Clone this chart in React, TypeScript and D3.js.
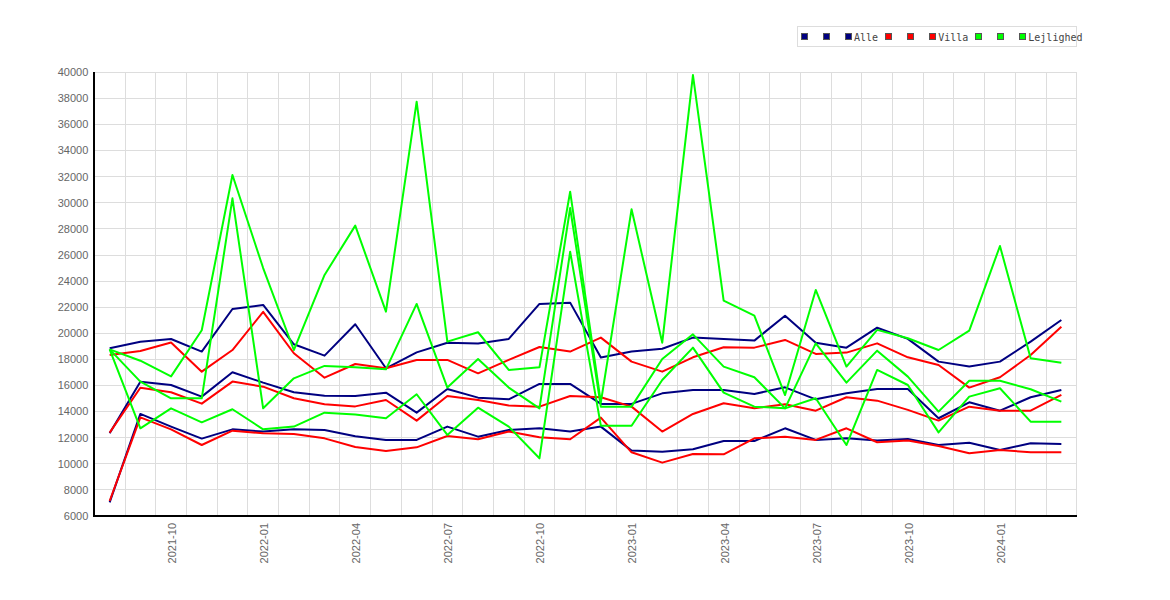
import React, { useEffect, useRef } from 'react';
import * as d3 from 'd3';

const months = [
  '2021-08', '2021-09', '2021-10', '2021-11', '2021-12',
  '2022-01', '2022-02', '2022-03', '2022-04', '2022-05', '2022-06', '2022-07',
  '2022-08', '2022-09', '2022-10', '2022-11', '2022-12',
  '2023-01', '2023-02', '2023-03', '2023-04', '2023-05', '2023-06', '2023-07',
  '2023-08', '2023-09', '2023-10', '2023-11', '2023-12',
  '2024-01', '2024-02', '2024-03',
];

const alleHigh = [18850, 19360, 19560, 18600, 21860, 22170, 19160, 18290, 20690, 17320, 18540, 19280, 19210, 19570, 22250, 22350, 18140, 18600, 18820, 19670, 19570, 19440, 21350, 19280, 18900, 20430, 19570, 17830, 17450, 17830, 19360, 21020];
const alleMid = [12340, 16290, 16040, 15150, 17020, 16220, 15480, 15220, 15200, 15450, 13920, 15730, 15070, 14940, 16120, 16120, 14590, 14590, 15400, 15660, 15660, 15350, 15860, 14940, 15400, 15730, 15730, 13490, 14710, 14070, 15100, 15660];
const alleLow = [7050, 13820, 12850, 11930, 12640, 12470, 12640, 12590, 12110, 11830, 11830, 12850, 12080, 12590, 12720, 12470, 12850, 11010, 10930, 11110, 11750, 11750, 12720, 11830, 11950, 11780, 11900, 11440, 11620, 11060, 11570, 11520];

const villaHigh = [18340, 18650, 19290, 17060, 18720, 21640, 18470, 16600, 17650, 17320, 17960, 17960, 16930, 17960, 18950, 18600, 19670, 17830, 17060, 18160, 18930, 18900, 19490, 18420, 18520, 19230, 18160, 17570, 15840, 16630, 18340, 20510];
const villaMid = [12390, 15830, 15480, 14610, 16300, 15910, 15020, 14560, 14400, 14890, 13310, 15200, 14890, 14460, 14380, 15200, 15100, 14380, 12470, 13820, 14640, 14250, 14560, 14070, 15100, 14840, 14130, 13310, 14380, 14070, 14070, 15280];
const villaLow = [7150, 13560, 12640, 11440, 12540, 12340, 12290, 11950, 11290, 10980, 11260, 12130, 11880, 12470, 12030, 11880, 13540, 10880, 10090, 10750, 10730, 11950, 12080, 11830, 12720, 11650, 11780, 11370, 10810, 11060, 10880, 10880];

const lejHigh = [18770, 17900, 16700, 20230, 32130, 25000, 18720, 24470, 28250, 21660, 37750, 19360, 20080, 17190, 17390, 30850, 14700, 29500, 19280, 39790, 22500, 21350, 15270, 23320, 17450, 20260, 19620, 18720, 20200, 26690, 18080, 17750];
const lejMid = [18770, 16300, 15020, 15020, 30340, 14250, 16550, 17500, 17400, 17240, 22250, 15840, 18030, 15840, 14250, 29600, 14380, 14380, 18030, 19920, 17450, 16630, 14250, 19230, 16220, 18670, 16680, 14000, 16370, 16370, 15710, 14760];
const lejLow = [18770, 12720, 14250, 13180, 14180, 12640, 12850, 13920, 13780, 13490, 15330, 12210, 14300, 12850, 10420, 26250, 12920, 12920, 16420, 18900, 15450, 14380, 14250, 15020, 11440, 17190, 16040, 12410, 15150, 15790, 13230, 13230];

const seriesLabels = ['', '', 'Alle', '', '', 'Villa', '', '', 'Lejlighed'];
const seriesColors = ['#000080', '#000080', '#000080', '#ff0000', '#ff0000', '#ff0000', '#00ff00', '#00ff00', '#00ff00'];
const seriesValues = [alleHigh, alleMid, alleLow, villaHigh, villaMid, villaLow, lejHigh, lejMid, lejLow];

const yTicks = d3.range(6000, 40001, 2000);
const xTickLabels = ['2021-10', '2022-01', '2022-04', '2022-07', '2022-10', '2023-01', '2023-04', '2023-07', '2023-10', '2024-01'];

const Chart: React.FC = () => {
  const svgRef = useRef<SVGSVGElement>(null);

  useEffect(() => {
    if (!svgRef.current) return;
    const svg = d3.select(svgRef.current);
    svg.selectAll('*').remove();

    const width = 1170;
    const height = 600;
    const left = 94.3;
    const right = 1076.7;
    const top = 72.3;
    const bottom = 516;

    svg.attr('width', width).attr('height', height).attr('viewBox', `0 0 ${width} ${height}`);

    const x = d3.scaleBand<string>().domain(months).range([left, right]);
    const y = d3.scaleLinear().domain([6000, 40000]).range([bottom, top]);

    // grid
    const grid = svg.append('g').attr('shape-rendering', 'crispEdges');
    grid.selectAll('line.h')
      .data(yTicks)
      .join('line')
      .attr('x1', left)
      .attr('x2', right)
      .attr('y1', (d) => y(d))
      .attr('y2', (d) => y(d))
      .attr('stroke', '#dddddd');
    grid.selectAll('line.v')
      .data(months.slice(1).concat(['end']))
      .join('line')
      .attr('x1', (_, i) => left + x.bandwidth() * (i + 1))
      .attr('x2', (_, i) => left + x.bandwidth() * (i + 1))
      .attr('y1', top)
      .attr('y2', bottom)
      .attr('stroke', '#dddddd');

    // y labels
    svg.append('g')
      .selectAll('text')
      .data(yTicks)
      .join('text')
      .attr('x', left - 6)
      .attr('y', (d) => y(d))
      .attr('dy', '0.35em')
      .attr('text-anchor', 'end')
      .attr('font-family', '"Liberation Sans", Arial, sans-serif')
      .attr('font-size', 11)
      .attr('fill', '#666666')
      .text((d) => d);

    // x labels
    svg.append('g')
      .selectAll('text')
      .data(xTickLabels)
      .join('text')
      .attr('transform', (d) => `translate(${(x(d) as number) + x.bandwidth() / 2 + 1},${bottom + 7}) rotate(-90)`)
      .attr('dy', '0.35em')
      .attr('text-anchor', 'end')
      .attr('font-family', '"Liberation Sans", Arial, sans-serif')
      .attr('font-size', 11)
      .attr('fill', '#666666')
      .text((d) => d);

    // lines
    const line = d3.line<number>()
      .x((_, i) => (x(months[i]) as number) + x.bandwidth() / 2)
      .y((d) => y(d));

    svg.append('g')
      .selectAll('path')
      .data(seriesValues)
      .join('path')
      .attr('d', (d) => line(d))
      .attr('fill', 'none')
      .attr('stroke', (_, i) => seriesColors[i])
      .attr('stroke-width', 2)
      .attr('stroke-linejoin', 'round');

    // axes
    const axes = svg.append('g').attr('shape-rendering', 'crispEdges');
    axes.append('line')
      .attr('x1', left).attr('x2', left)
      .attr('y1', top).attr('y2', bottom + 1)
      .attr('stroke', '#000').attr('stroke-width', 2);
    axes.append('line')
      .attr('x1', left).attr('x2', right)
      .attr('y1', bottom).attr('y2', bottom)
      .attr('stroke', '#000').attr('stroke-width', 2);

    // legend
    const charW = 6.02;
    const legend = svg.append('g');
    legend.append('rect')
      .attr('x', 797.5)
      .attr('y', 26.5)
      .attr('width', 279)
      .attr('height', 20)
      .attr('fill', '#fff')
      .attr('stroke', '#dddddd')
      .attr('shape-rendering', 'crispEdges');

    let lx = 801;
    seriesLabels.forEach((label, i) => {
      legend.append('rect')
        .attr('x', lx + 0.5)
        .attr('y', 33.5)
        .attr('width', 6)
        .attr('height', 6)
        .attr('fill', seriesColors[i])
        .attr('stroke', '#555')
        .attr('shape-rendering', 'crispEdges');
      legend.append('text')
        .attr('x', lx + 9)
        .attr('y', 41)
        .attr('font-family', '"DejaVu Sans Mono", monospace')
        .attr('font-size', 10)
        .attr('fill', '#444')
        .text(label);
      lx += 6 + 3 + Math.max(1, label.length) * charW + 7;
    });
  }, []);

  return <svg ref={svgRef} style={{ display: 'block' }} />;
};

export default function App() {
  return (
    <div style={{ position: 'absolute', left: 0, top: 0, width: 1170, height: 600, background: '#fff' }}>
      <Chart />
    </div>
  );
}
